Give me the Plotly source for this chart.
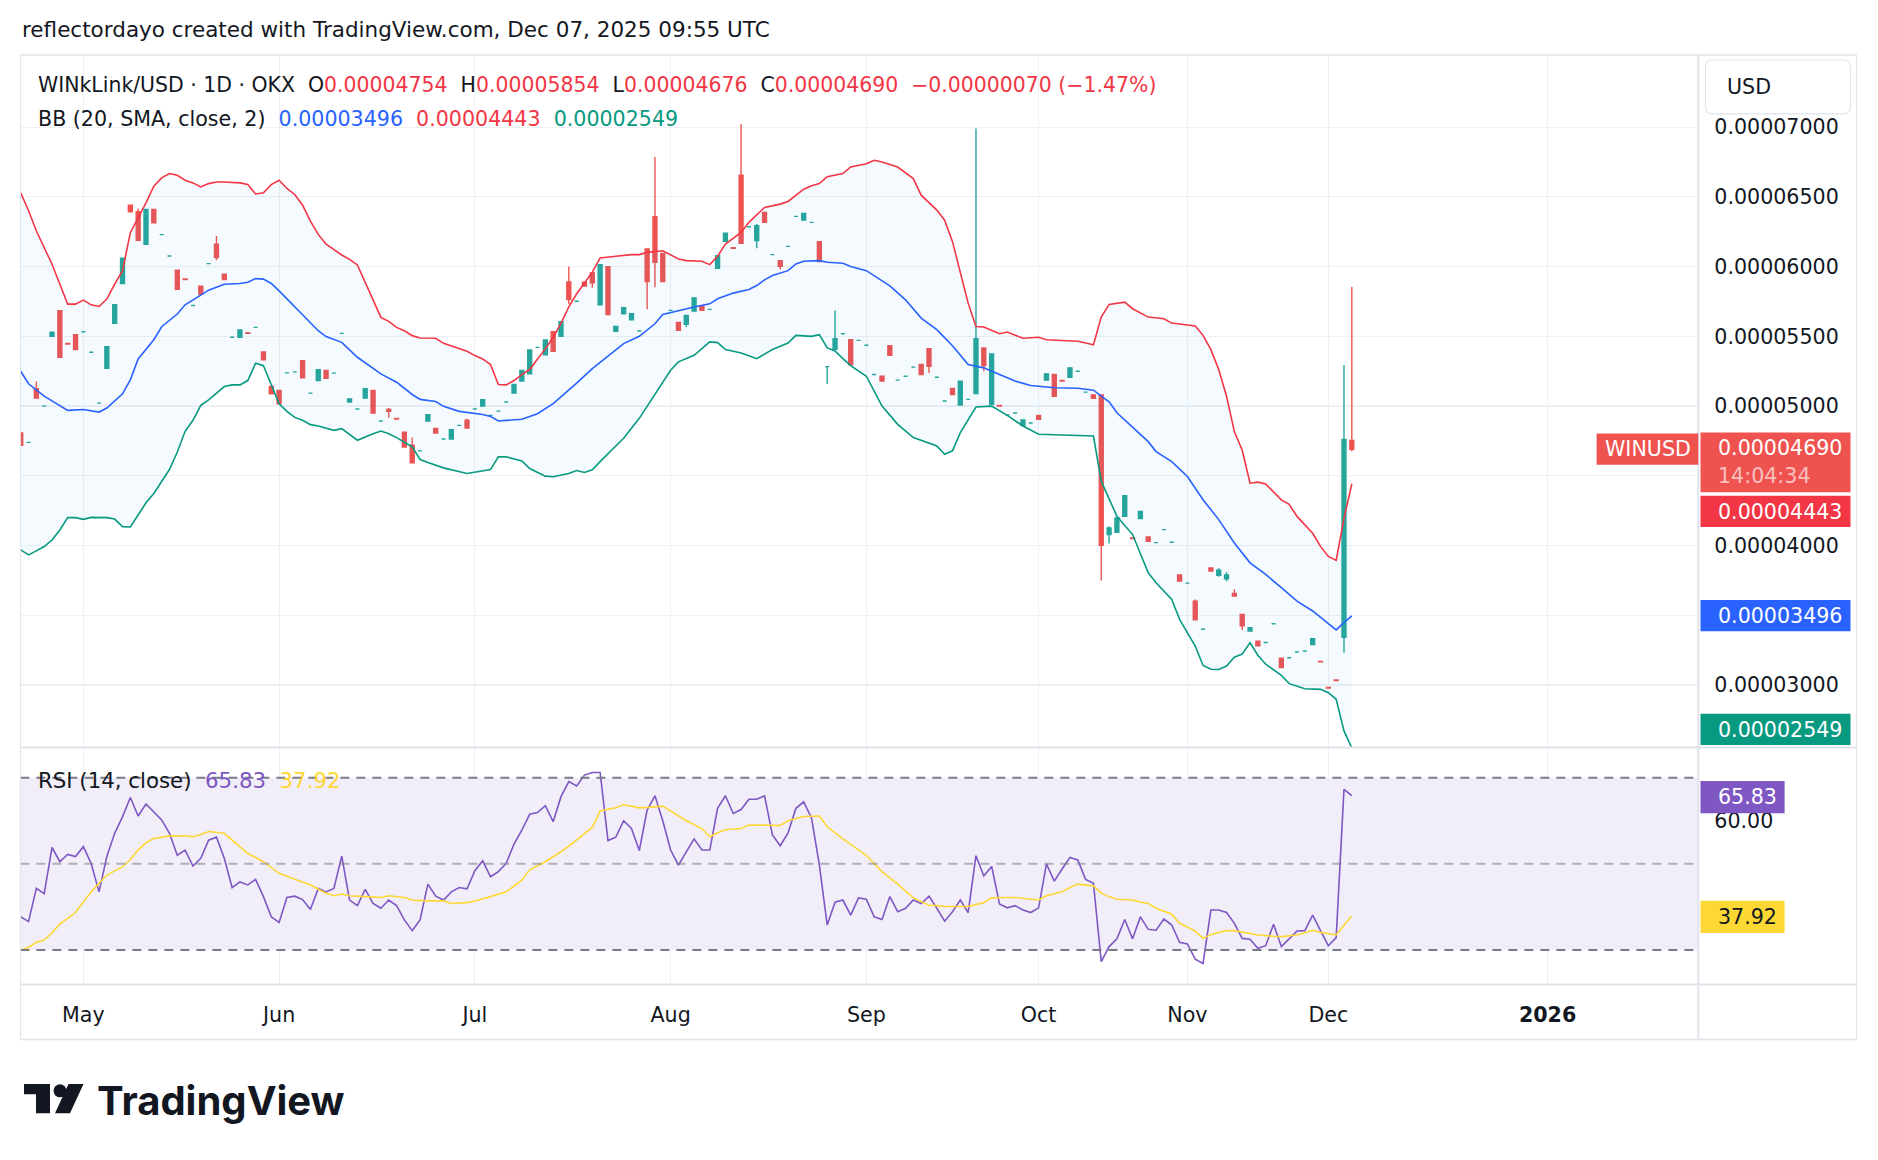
import numpy as np
import plotly.graph_objects as go

# ---------------------------------------------------------------- data
# prices in units of 0.00000001 USD, one entry per daily bar (bar index 0..170)
UNIT = 1e-8

open_ = [
    4807, 4740, 5124, 5000, 5500, 5683, 5449, 5512, 5533, 5386,
    5021, 5271, 5593, 5879, 6440, 6393, 6160, 6410, 6229, 6076,
    5974, 5911, 5721, 5860, 6021, 6160, 5945, 5493, 5493, 5525,
    5564, 5388, 5141, 5112, 5238, 5245, 5326, 5093, 5183, 5255,
    5236, 5521, 5029, 4979, 5057, 5112, 4893, 4976, 4911, 4812,
    4719, 4679, 4893, 4840, 4764, 4764, 4862, 4898, 4979, 5000,
    4933, 4964, 5029, 5093, 5179, 5231, 5421, 5367, 5533, 5500,
    5890, 5752, 5888, 5955, 5726, 6000, 5536, 5662, 5619, 5538,
    6126, 6357, 6095, 5686, 5600, 5586, 5681, 5719, 5693, 5988,
    6181, 6135, 6655, 6286, 6186, 6388, 6086, 6043, 6145, 6360,
    6333, 6317, 6179, 5283, 5407, 5519, 5476, 5471, 5436, 5226,
    5214, 5433, 5186, 5214, 5279, 5298, 5412, 5207, 5036, 5126,
    5007, 5048, 5090, 5417, 5012, 5004, 4936, 4950, 4862, 4879,
    4933, 5186, 5226, 5183, 5207, 5250, 5100, 5079, 5079, 4079,
    4095, 4210, 4054, 4193, 4062, 4021, 4114, 4024, 3790, 3731,
    3602, 3400, 3840, 3786, 3762, 3657, 3507, 3388, 3314, 3305,
    3440, 3193, 3196, 3237, 3244, 3291, 3170, 2983, 3037, 3343,
    4754,
]
high = [
    4807, 4740, 5176, 5000, 5529, 5683, 5449, 5512, 5533, 5386,
    5021, 5426, 5726, 6060, 6440, 6416, 6410, 6410, 6229, 6076,
    5974, 5911, 5721, 5860, 6021, 6219, 5945, 5493, 5550, 5525,
    5564, 5388, 5141, 5112, 5238, 5245, 5326, 5093, 5260, 5255,
    5236, 5521, 5052, 4979, 5131, 5112, 4893, 4986, 4911, 4812,
    4774, 4679, 4938, 4840, 4764, 4831, 4862, 4910, 4979, 5045,
    4933, 4964, 5029, 5155, 5255, 5402, 5421, 5474, 5533, 5605,
    6000, 5752, 5888, 5955, 6014, 6000, 5571, 5705, 5662, 5538,
    6126, 6786, 6095, 5686, 5600, 5650, 5776, 5719, 5693, 6079,
    6240, 6135, 7020, 6286, 6305, 6388, 6086, 6043, 6145, 6360,
    6381, 6317, 6179, 5283, 5686, 5519, 5476, 5471, 5436, 5226,
    5214, 5433, 5186, 5214, 5279, 5298, 5412, 5207, 5036, 5126,
    5179, 5048, 6990, 5417, 5374, 5004, 4936, 4950, 4900, 4879,
    4933, 5231, 5226, 5183, 5274, 5250, 5100, 5079, 5079, 4138,
    4198, 4357, 4054, 4245, 4062, 4021, 4114, 4024, 3790, 3731,
    3614, 3400, 3840, 3838, 3810, 3686, 3507, 3412, 3314, 3305,
    3440, 3193, 3196, 3237, 3244, 3332, 3170, 2983, 3037, 5295,
    5854,
]
low = [
    4719, 4740, 5057, 5000, 5500, 5350, 5445, 5405, 5533, 5386,
    5021, 5271, 5593, 5879, 6393, 6188, 6160, 6314, 6229, 6076,
    5838, 5907, 5721, 5802, 6021, 6045, 5907, 5493, 5490, 5521,
    5564, 5331, 5088, 5017, 5238, 5245, 5202, 5093, 5183, 5200,
    5236, 5521, 5029, 4979, 5057, 4950, 4893, 4917, 4907, 4707,
    4593, 4679, 4893, 4807, 4764, 4764, 4862, 4843, 4979, 5000,
    4933, 4964, 5029, 5093, 5179, 5231, 5421, 5367, 5393, 5500,
    5731, 5752, 5860, 5848, 5726, 5657, 5536, 5662, 5619, 5538,
    5695, 5852, 5893, 5686, 5543, 5567, 5681, 5686, 5693, 5988,
    6181, 6131, 6167, 6286, 6131, 6317, 6086, 5979, 6145, 6360,
    6333, 6317, 6036, 5158, 5407, 5519, 5298, 5471, 5436, 5226,
    5179, 5364, 5186, 5214, 5279, 5226, 5238, 5207, 5036, 5083,
    5007, 5048, 5090, 5250, 5012, 5000, 4936, 4950, 4862, 4879,
    4905, 5186, 5071, 5179, 5207, 5250, 5100, 5055, 3750, 4014,
    4095, 4210, 4050, 4193, 4031, 4021, 4114, 4024, 3745, 3731,
    3467, 3400, 3817, 3776, 3745, 3638, 3395, 3388, 3281, 3305,
    3440, 3126, 3196, 3237, 3244, 3291, 3166, 2979, 3033, 3231,
    4676,
]
close = [
    4719, 4740, 5057, 5000, 5529, 5350, 5445, 5405, 5533, 5386,
    5021, 5426, 5726, 6060, 6393, 6188, 6410, 6314, 6229, 6076,
    5838, 5907, 5721, 5802, 6021, 6064, 5907, 5493, 5545, 5521,
    5564, 5331, 5088, 5017, 5238, 5245, 5202, 5093, 5260, 5200,
    5236, 5521, 5052, 4979, 5124, 4950, 4893, 4962, 4907, 4707,
    4593, 4679, 4938, 4807, 4764, 4831, 4862, 4843, 4979, 5045,
    4933, 4964, 5029, 5155, 5255, 5402, 5421, 5474, 5393, 5605,
    5764, 5752, 5860, 5883, 6014, 5657, 5571, 5705, 5662, 5538,
    5893, 6031, 5893, 5686, 5543, 5650, 5776, 5686, 5693, 6079,
    6240, 6131, 6167, 6286, 6293, 6317, 6086, 6002, 6145, 6360,
    6381, 6317, 6036, 5283, 5483, 5519, 5298, 5471, 5436, 5226,
    5179, 5364, 5186, 5214, 5279, 5226, 5286, 5207, 5036, 5083,
    5179, 5048, 5483, 5290, 5374, 5000, 4936, 4950, 4900, 4879,
    4905, 5231, 5071, 5179, 5274, 5250, 5100, 5055, 4002, 4126,
    4198, 4357, 4050, 4245, 4031, 4021, 4114, 4024, 3745, 3731,
    3467, 3400, 3817, 3824, 3790, 3638, 3424, 3412, 3281, 3305,
    3440, 3126, 3196, 3237, 3244, 3332, 3166, 2979, 3033, 4760,
    4690,
]

# Bollinger Bands (20, SMA, close, 2): (bar index, value)
bb_upper = [
    (0, 6529), (1, 6402), (2, 6255), (4, 6017), (5, 5874), (6, 5731), (7, 5731), (8, 5760),
    (9, 5726), (10, 5714), (11, 5767), (12, 5874), (13, 5969), (14, 6243), (15, 6350), (16, 6457),
    (17, 6576), (18, 6636), (19, 6667), (20, 6655), (21, 6619), (22, 6600), (23, 6571), (24, 6595),
    (25, 6607), (26, 6607), (28, 6600), (29, 6588), (30, 6521), (31, 6529), (32, 6588), (33, 6619),
    (34, 6560), (35, 6517), (36, 6440), (37, 6326), (38, 6231), (39, 6160), (41, 6083), (42, 6052),
    (43, 6012), (44, 5886), (45, 5755), (46, 5636), (47, 5607), (48, 5564), (49, 5540), (50, 5505),
    (51, 5488), (53, 5486), (54, 5450), (56, 5410), (57, 5393), (58, 5362), (59, 5338), (60, 5298),
    (61, 5155), (62, 5152), (63, 5183), (64, 5226), (65, 5262), (66, 5338), (67, 5410), (68, 5493),
    (69, 5593), (70, 5712), (71, 5805), (73, 5960), (74, 6062), (76, 6074), (78, 6086), (79, 6086),
    (80, 6102), (82, 6114), (83, 6086), (84, 6055), (85, 6043), (87, 6038), (88, 6014), (89, 6074),
    (90, 6162), (92, 6245), (93, 6317), (95, 6424), (97, 6448), (98, 6467), (100, 6555), (101, 6579),
    (102, 6595), (103, 6645), (105, 6667), (106, 6714), (108, 6738), (109, 6762), (110, 6750),
    (112, 6714), (114, 6631), (115, 6512), (117, 6405), (118, 6333), (119, 6179), (120, 5952),
    (121, 5738), (122, 5571), (123, 5567), (125, 5519), (126, 5531), (128, 5486), (130, 5493),
    (131, 5476), (133, 5469), (135, 5465), (136, 5452), (137, 5440), (138, 5638), (139, 5729),
    (141, 5745), (142, 5698), (144, 5638), (146, 5626), (147, 5595), (150, 5574), (151, 5507),
    (152, 5405), (153, 5262), (154, 5070), (155, 4817), (156, 4683), (157, 4447), (158, 4455),
    (159, 4442), (161, 4328), (162, 4295), (163, 4209), (165, 4088), (166, 3994), (167, 3922),
    (168, 3894), (169, 4195), (170, 4443),
]
bb_basis = [
    (0, 5250), (1, 5160), (3, 5071), (4, 5036), (6, 4969), (8, 4976), (10, 4957), (11, 4986),
    (13, 5088), (14, 5188), (15, 5338), (17, 5476), (18, 5569), (20, 5660), (21, 5726), (23, 5795),
    (24, 5831), (26, 5874), (28, 5879), (29, 5888), (30, 5914), (31, 5910), (32, 5879), (33, 5826),
    (34, 5767), (35, 5712), (36, 5655), (38, 5540), (39, 5498), (41, 5457), (43, 5350), (46, 5231),
    (48, 5171), (50, 5083), (51, 5048), (53, 5033), (54, 4998), (56, 4962), (59, 4940), (60, 4926),
    (61, 4893), (64, 4905), (66, 4945), (68, 5017), (70, 5112), (71, 5165), (73, 5269), (75, 5357),
    (77, 5448), (79, 5500), (81, 5590), (82, 5657), (84, 5686), (86, 5710), (88, 5733), (89, 5769),
    (91, 5810), (93, 5836), (94, 5864), (95, 5905), (96, 5936), (98, 5971), (99, 6019), (100, 6038),
    (102, 6043), (103, 6031), (105, 6024), (106, 6000), (108, 5971), (111, 5862), (113, 5762),
    (115, 5631), (117, 5548), (119, 5433), (121, 5298), (123, 5274), (125, 5226), (127, 5179),
    (129, 5148), (132, 5131), (135, 5128), (137, 5114), (138, 5071), (139, 5031), (140, 4952),
    (142, 4852), (144, 4745), (145, 4674), (147, 4602), (149, 4495), (151, 4329), (153, 4186),
    (155, 4019), (157, 3876), (159, 3793), (161, 3698), (163, 3602), (165, 3531), (167, 3436),
    (168, 3395), (169, 3448), (170, 3496),
]
bb_lower = [
    (0, 3969), (1, 3933), (2, 3962), (3, 3993), (4, 4040), (5, 4112), (6, 4200), (7, 4200),
    (8, 4188), (9, 4202), (11, 4200), (12, 4190), (13, 4136), (14, 4133), (15, 4219), (16, 4307),
    (17, 4374), (18, 4457), (19, 4545), (20, 4671), (21, 4819), (22, 4898), (23, 5005), (24, 5045),
    (26, 5140), (27, 5152), (28, 5152), (29, 5183), (30, 5307), (31, 5290), (32, 5160), (33, 5017),
    (34, 4962), (35, 4919), (36, 4898), (37, 4867), (38, 4857), (40, 4826), (41, 4838), (43, 4755),
    (45, 4802), (46, 4821), (47, 4802), (48, 4774), (50, 4707), (51, 4617), (52, 4595), (54, 4557),
    (57, 4517), (60, 4545), (61, 4636), (62, 4636), (64, 4607), (65, 4552), (67, 4498), (68, 4493),
    (70, 4517), (71, 4538), (72, 4524), (73, 4543), (74, 4602), (77, 4769), (79, 4912), (81, 5083),
    (83, 5257), (84, 5317), (86, 5364), (88, 5460), (89, 5455), (90, 5405), (92, 5381), (94, 5340),
    (96, 5405), (98, 5452), (99, 5507), (101, 5500), (102, 5512), (103, 5417), (104, 5395),
    (105, 5340), (106, 5290), (108, 5214), (110, 5000), (112, 4869), (114, 4774), (117, 4714),
    (118, 4655), (119, 4679), (120, 4810), (122, 4993), (124, 5000), (126, 4933), (128, 4857),
    (130, 4798), (133, 4793), (135, 4793), (137, 4786), (138, 4460), (139, 4329), (140, 4210),
    (142, 4079), (143, 3948), (144, 3805), (145, 3733), (147, 3614), (148, 3471), (149, 3380),
    (150, 3280), (151, 3140), (152, 3113), (153, 3112), (154, 3136), (155, 3200), (156, 3222),
    (157, 3303), (158, 3214), (159, 3149), (160, 3110), (161, 3070), (162, 3010), (163, 2993),
    (164, 2974), (166, 2969), (167, 2945), (168, 2898), (169, 2671), (170, 2549),
]

# RSI (14, close), one value per bar
rsi = [
    37.7, 36.6, 44.3, 43.1, 53.8, 50.5, 52.2, 51.7, 54.0, 50.1,
    43.5, 51.7, 57.1, 60.9, 65.4, 61.1, 63.9, 62.1, 60.2, 57.1,
    52.0, 53.2, 49.5, 51.3, 55.5, 56.2, 51.3, 44.5, 45.8, 45.1,
    46.4, 42.4, 37.7, 36.4, 42.2, 42.5, 41.7, 39.4, 44.3, 43.5,
    44.3, 51.8, 41.6, 40.3, 44.1, 40.8, 39.7, 41.6, 40.3, 37.0,
    34.5, 37.0, 45.3, 42.5, 41.6, 43.5, 44.5, 44.2, 48.4, 50.7,
    47.0, 48.2, 50.1, 54.6, 57.8, 61.5, 61.9, 63.5, 59.8, 65.6,
    69.1, 68.1, 70.6, 71.2, 71.2, 55.4, 56.2, 60.0, 58.2, 53.1,
    62.5, 65.8, 60.0, 53.2, 49.7, 52.8, 55.8, 53.2, 53.2, 62.9,
    65.8, 61.7, 62.6, 65.0, 65.0, 65.8, 56.7, 54.2, 57.2, 62.9,
    64.4, 60.6, 49.7, 35.8, 41.1, 41.6, 38.1, 42.1, 41.8, 37.7,
    37.1, 42.4, 38.9, 39.7, 41.6, 40.8, 42.5, 39.7, 36.7, 38.9,
    41.6, 38.7, 51.9, 47.2, 49.4, 40.7, 39.8, 40.3, 39.3, 38.7,
    39.8, 50.0, 46.0, 48.8, 51.5, 50.9, 46.4, 45.5, 27.3, 30.8,
    32.6, 37.1, 32.6, 37.7, 34.8, 34.6, 37.2, 35.8, 31.8, 31.4,
    27.9, 26.9, 39.3, 39.3, 38.7, 36.2, 32.7, 32.5, 30.4, 31.0,
    36.0, 30.8, 32.5, 34.4, 34.5, 38.1, 34.5, 31.0, 32.9, 67.3,
    65.83,
]
# RSI-based moving average: (bar index, value)
rsi_ma = [
    (0, 30.0), (1, 30.6), (2, 31.8), (3, 32.3), (4, 34.0), (5, 36.0), (7, 38.7), (8, 41.2),
    (9, 43.5), (10, 45.5), (11, 47.4), (13, 49.3), (14, 51.0), (15, 53.2), (16, 54.9), (17, 55.9),
    (19, 56.5), (21, 56.5), (22, 56.3), (23, 56.8), (24, 57.5), (26, 57.1), (27, 55.5), (28, 54.1),
    (29, 52.4), (31, 50.5), (33, 47.8), (35, 46.4), (37, 45.1), (39, 43.2), (40, 42.6), (41, 43.0),
    (42, 42.6), (44, 42.4), (46, 42.2), (47, 42.6), (49, 42.2), (50, 41.6), (52, 41.4), (54, 41.4),
    (55, 40.8), (57, 41.0), (58, 41.4), (60, 42.4), (62, 43.5), (64, 46.2), (65, 48.6), (67, 50.5),
    (69, 52.8), (71, 55.5), (73, 58.5), (74, 62.3), (76, 63.0), (77, 63.7), (79, 63.0), (80, 63.1),
    (82, 63.4), (83, 62.3), (85, 60.0), (87, 58.2), (88, 56.3), (89, 57.2), (90, 57.9), (92, 58.2),
    (93, 59.0), (95, 59.0), (97, 58.9), (98, 60.0), (100, 61.0), (102, 61.1), (103, 58.6),
    (105, 55.8), (108, 52.0), (110, 48.2), (112, 45.3), (114, 42.1), (116, 40.4), (117, 40.3),
    (118, 40.1), (120, 40.1), (121, 40.1), (123, 41.0), (124, 42.1), (126, 42.2), (127, 42.2),
    (129, 41.8), (130, 41.6), (131, 42.6), (133, 43.5), (134, 44.5), (135, 45.3), (137, 44.9),
    (138, 43.2), (139, 42.4), (140, 41.8), (142, 41.6), (143, 41.1), (144, 40.8), (145, 39.7),
    (147, 38.3), (148, 36.2), (150, 34.4), (151, 32.7), (152, 33.6), (154, 34.5), (155, 34.5),
    (157, 33.9), (158, 33.5), (160, 33.2), (161, 33.1), (163, 33.5), (164, 34.0), (165, 34.6),
    (166, 34.1), (168, 33.5), (169, 35.8), (170, 37.92),
]

# time axis: bar index where each month starts
month_pos = [8, 33, 58, 83, 108, 130, 149, 167, 195]
month_lbl = ["May", "Jun", "Jul", "Aug", "Sep", "Oct", "Nov", "Dec", "<b>2026</b>"]
price_ticks = [3000, 3500, 4000, 4500, 5000, 5500, 6000, 6500, 7000]
hidden_price_ticks = [3500, 4500]

# ---------------------------------------------------------------- style
W, H = 1878, 1160
FONT = "DejaVu Sans"
TEXT = "#131722"
GRID = "#eef0f4"
BORDER = "#e0e3eb"
UP, DOWN = "#26a69a", "#ef5350"
C_UPPER, C_BASIS, C_LOWER = "#F23645", "#2962FF", "#089981"
C_RSI, C_MA = "#7E57C2", "#FDD835"
AX_FS = 20.6

PL, PR = 20.4, 1698.3          # plot area left/right (px)
MT, MB = 55.0, 747.4           # main pane top/bottom
RT, RB = 747.4, 984.5          # RSI pane top/bottom
OR_, OB = 1856.5, 1039.6       # outer frame right/bottom


def fx(x):
    return x / W


def fy(y):
    return 1 - y / H


o = np.array(open_, float) * UNIT
h = np.array(high, float) * UNIT
l = np.array(low, float) * UNIT
c = np.array(close, float) * UNIT
idx = np.arange(len(c))
up = c >= o

fig = go.Figure()

# Bollinger band fill + lines
lx, ly = zip(*bb_lower)
ux, uy = zip(*bb_upper)
bx, by = zip(*bb_basis)
fig.add_trace(go.Scatter(x=lx, y=np.array(ly) * UNIT, mode="lines",
                         line=dict(color=C_LOWER, width=1.6), hoverinfo="skip"))
fig.add_trace(go.Scatter(x=ux, y=np.array(uy) * UNIT, mode="lines", fill="tonexty",
                         fillcolor="rgba(33,150,243,0.05)",
                         line=dict(color=C_UPPER, width=1.6), hoverinfo="skip"))
fig.add_trace(go.Scatter(x=bx, y=np.array(by) * UNIT, mode="lines",
                         line=dict(color=C_BASIS, width=1.6), hoverinfo="skip"))

# candles
for mask, col in ((up, UP), (~up, DOWN)):
    fig.add_trace(go.Candlestick(
        x=idx[mask], open=o[mask], high=h[mask], low=l[mask], close=c[mask],
        increasing=dict(line=dict(color=col, width=1.4), fillcolor=col),
        decreasing=dict(line=dict(color=col, width=1.4), fillcolor=col),
        whiskerwidth=0, hoverinfo="skip", xaxis="x", yaxis="y"))

# RSI pane
mx, my = zip(*rsi_ma)
fig.add_trace(go.Scatter(x=idx, y=rsi, mode="lines", line=dict(color=C_RSI, width=1.6),
                         xaxis="x2", yaxis="y2", hoverinfo="skip"))
fig.add_trace(go.Scatter(x=mx, y=my, mode="lines", line=dict(color=C_MA, width=1.6),
                         xaxis="x2", yaxis="y2", hoverinfo="skip"))

shapes = []
# RSI band background and level lines
shapes.append(dict(type="rect", xref="paper", yref="y2", x0=fx(PL), x1=fx(PR), y0=30, y1=70,
                   fillcolor="rgba(126,87,194,0.10)", line=dict(width=0), layer="below"))
for lvl, colr in ((70, "#787B86"), (50, "rgba(120,123,134,0.55)"), (30, "#787B86")):
    shapes.append(dict(type="line", xref="paper", yref="y2", x0=fx(PL), x1=fx(PR), y0=lvl, y1=lvl,
                       line=dict(color=colr, width=2, dash="9px,7px"), layer="above"))


# frame lines
def hline(y, x0=PL, x1=OR_, w=1.5):
    return dict(type="line", xref="paper", yref="paper", x0=fx(x0), x1=fx(x1), y0=fy(y), y1=fy(y),
                line=dict(color=BORDER, width=w), layer="above")


def vline(x, y0=MT, y1=OB, w=1.5):
    return dict(type="line", xref="paper", yref="paper", x0=fx(x), x1=fx(x), y0=fy(y0), y1=fy(y1),
                line=dict(color=BORDER, width=w), layer="above")


shapes += [hline(MT), hline(MB, w=2), hline(RB, w=2), hline(OB), vline(PL, w=1), vline(PR, w=2),
           vline(OR_, w=1)]


def rect(x0, y0, x1, y1, color):
    return dict(type="rect", xref="paper", yref="paper", x0=fx(x0), x1=fx(x1), y0=fy(y0), y1=fy(y1),
                fillcolor=color, line=dict(width=0), layer="above")


def rrect_path(x0, y0, x1, y1, r):
    def P(x, y):
        return f"{fx(x):.6f},{fy(y):.6f}"
    return (f"M{P(x0 + r, y0)}L{P(x1 - r, y0)}Q{P(x1, y0)} {P(x1, y0 + r)}"
            f"L{P(x1, y1 - r)}Q{P(x1, y1)} {P(x1 - r, y1)}L{P(x0 + r, y1)}"
            f"Q{P(x0, y1)} {P(x0, y1 - r)}L{P(x0, y0 + r)}Q{P(x0, y0)} {P(x0 + r, y0)}Z")


# USD box
shapes.append(dict(type="path", xref="paper", yref="paper", path=rrect_path(1705.5, 60, 1850.5, 113.8, 7),
                   fillcolor="white", line=dict(color=BORDER, width=1.2), layer="above"))

# price labels on the scale
shapes += [
    rect(1596.6, 433.6, 1698.3, 464.7, "#ef5350"),
    rect(1700.5, 432.4, 1850.5, 492.3, "#ef5350"),
    rect(1700.5, 495.8, 1850.5, 527.0, C_UPPER),
    rect(1700.5, 600.0, 1850.5, 631.2, C_BASIS),
    rect(1700.5, 713.8, 1850.5, 745.0, C_LOWER),
    rect(1700.5, 781.0, 1784.6, 813.2, C_RSI),
    rect(1700.5, 900.7, 1784.6, 933.0, C_MA),
]


# TradingView logo mark
def poly(pts):
    s = "M" + "L".join(f"{fx(x):.6f},{fy(y):.6f}" for x, y in pts) + "Z"
    return dict(type="path", xref="paper", yref="paper", path=s, fillcolor="#131722",
                line=dict(width=0), layer="above")


shapes.append(poly([(24, 1084), (50, 1084), (50, 1113.3), (36, 1113.3), (36, 1094.3), (24, 1094.3)]))
shapes.append(dict(type="circle", xref="paper", yref="paper", x0=fx(53.5), x1=fx(66.5),
                   y0=fy(1097.3), y1=fy(1084.3), fillcolor="#131722", line=dict(width=0), layer="above"))
shapes.append(poly([(68.5, 1084), (83.5, 1084), (70, 1113.3), (55, 1113.3)]))


def ann(text, x, y, size=20.6, color=TEXT, xanchor="left", family=FONT):
    return dict(text=text, x=fx(x), y=fy(y), xref="paper", yref="paper", xanchor=xanchor,
                yanchor="middle", showarrow=False, align="left",
                font=dict(family=family, size=size, color=color))


def fmt(v):
    return f"{v * UNIT:.8f}".replace("-", "\u2212")


NB = "\u00a0"
RED_T = "#F23645"
chg = close[-1] - close[-2]
pct = chg / close[-2] * 100
pct_txt = f"{pct:.2f}".replace("-", "\u2212")


def sp(s, col=RED_T):
    return f"<span style='color:{col}'>{s}</span>"


leg1 = (f"WINkLink/USD · 1D · OKX{NB*2}O{sp(fmt(open_[-1]))}{NB*2}H{sp(fmt(high[-1]))}{NB*2}"
        f"L{sp(fmt(low[-1]))}{NB*2}C{sp(fmt(close[-1]))}{NB*2}"
        f"{sp(fmt(chg) + ' (' + pct_txt + '%)')}")
leg2 = (f"BB (20, SMA, close, 2){NB*2}{sp(fmt(bb_basis[-1][1]), C_BASIS)}{NB*2}"
        f"{sp(fmt(bb_upper[-1][1]), C_UPPER)}{NB*2}{sp(fmt(bb_lower[-1][1]), C_LOWER)}")
leg3 = (f"RSI (14, close){NB*2}{sp(f'{rsi[-1]:.2f}', C_RSI)}{NB*2}"
        f"{sp(f'{rsi_ma[-1][1]:.2f}', C_MA)}")

annotations = [
    ann("reflectordayo created with TradingView.com, Dec 07, 2025 09:55 UTC", 20.4, 30, size=21.5),
    ann(leg1, 36, 85, size=20.45),
    ann(leg2, 36, 118.6),
    ann(leg3, 36, 780, size=21.3),
    ann("USD", 1725, 87),
    ann("WINUSD", 1647.5, 449, color="white", xanchor="center"),
    ann(fmt(close[-1]), 1716, 448, color="white"),
    ann("14:04:34", 1716, 476, color="rgba(255,255,255,0.65)"),
    ann(fmt(bb_upper[-1][1]), 1716, 511.5, color="white"),
    ann(fmt(bb_basis[-1][1]), 1716, 615.7, color="white"),
    ann(fmt(bb_lower[-1][1]), 1716, 729.5, color="white"),
    ann(f"{rsi[-1]:.2f}", 1716, 797, color="white"),
    ann(f"{rsi_ma[-1][1]:.2f}", 1716, 917, color=TEXT),
    ann("<b>TradingView</b>", 95, 1100, size=40, family="Inter", color="#131722"),
]

xrange_ = [-0.04, 214.25]
fig.update_layout(
    width=W, height=H, margin=dict(l=0, r=0, t=0, b=0),
    paper_bgcolor="white", plot_bgcolor="white", showlegend=False,
    font=dict(family=FONT, size=20, color=TEXT),
    xaxis=dict(domain=[fx(PL), fx(PR)], anchor="y", range=xrange_, tickvals=month_pos,
               showticklabels=False, showgrid=True, gridcolor=GRID, gridwidth=1.2, zeroline=False,
               showline=False, ticks="", rangeslider=dict(visible=False)),
    xaxis2=dict(domain=[fx(PL), fx(PR)], anchor="y2", matches="x", range=xrange_,
                tickvals=month_pos, ticktext=month_lbl, showgrid=True, gridcolor=GRID, gridwidth=1.2,
                zeroline=False, showline=False, ticks="", ticklabelstandoff=16,
                tickfont=dict(family=FONT, size=AX_FS, color=TEXT), rangeslider=dict(visible=False)),
    yaxis=dict(domain=[fy(MB), fy(MT)], anchor="x", side="right",
               range=[2553 * UNIT, 7517 * UNIT],
               tickvals=[v * UNIT for v in price_ticks],
               ticktext=["" if v in hidden_price_ticks else fmt(v) for v in price_ticks],
               showgrid=True, gridcolor=GRID, gridwidth=1.2, zeroline=False, showline=False,
               ticks="", ticklabelstandoff=15, tickfont=dict(family=FONT, size=AX_FS, color=TEXT)),
    yaxis2=dict(domain=[fy(RB), fy(RT)], anchor="x2", side="right", range=[22.0, 77.03],
                tickvals=[40, 60], ticktext=["", "60.00"], showgrid=True, gridcolor=GRID,
                gridwidth=1.2, zeroline=False, showline=False, ticks="", ticklabelstandoff=15,
                tickfont=dict(family=FONT, size=AX_FS, color=TEXT)),
    boxgap=0.28,
    shapes=shapes,
    annotations=annotations,
)

fig.write_html("out.html", config={"displayModeBar": False, "staticPlot": True})
